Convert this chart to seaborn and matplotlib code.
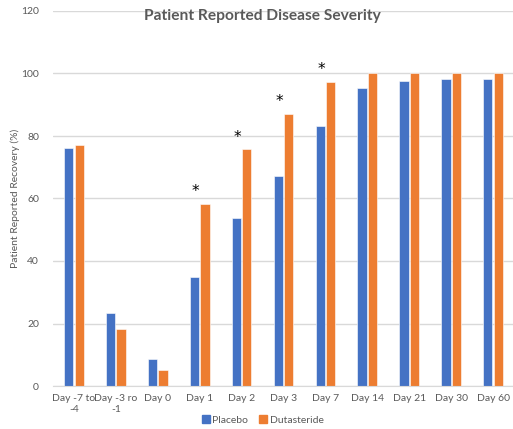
import matplotlib
matplotlib.use("Agg")
import matplotlib.pyplot as plt
import seaborn as sns
import pandas as pd

categories = ["Day -7 to\n-4", "Day -3 ro\n-1", "Day 0", "Day 1", "Day 2", "Day 3",
              "Day 7", "Day 14", "Day 21", "Day 30", "Day 60"]
placebo = [76.2, 23.3, 8.6, 34.9, 53.8, 67.1, 83.2, 95.3, 97.6, 98.2, 98.2]
dutasteride = [77.1, 18.1, 5.0, 58.2, 75.7, 87.0, 97.4, 100, 100, 100, 100]
significant = ["Day 1", "Day 2", "Day 3", "Day 7"]
series_names = ["Placebo", "Dutasteride"]
colors = ["#4472C4", "#ED7D31"]

df = pd.DataFrame({
    "Day": categories * 2,
    "Group": [series_names[0]] * len(categories) + [series_names[1]] * len(categories),
    "Value": placebo + dutasteride,
})

sns.set_style("white")
plt.rcParams["font.family"] = ["Lato", "DejaVu Sans"]

fig = plt.figure(figsize=(5.13, 4.29), dpi=100)
ax = fig.add_axes([53 / 513, 43 / 429, 461 / 513, 375 / 429])

sns.barplot(data=df, x="Day", y="Value", hue="Group", palette=colors, saturation=1,
            width=0.5, gap=0.12, ax=ax, legend=False,
            edgecolor="white", linewidth=0.4)

ax.set_ylim(0, 120)
ax.set_yticks(range(0, 121, 20))
ax.set_xlim(-0.5, len(categories) - 0.5)
ax.yaxis.grid(True, color="#D9D9D9", linewidth=1)
ax.set_axisbelow(True)
for s in ["top", "right", "left"]:
    ax.spines[s].set_visible(False)
ax.spines["bottom"].set_color("#D9D9D9")
ax.tick_params(axis="both", length=0, labelsize=7.5, labelcolor="#595959")
ax.tick_params(axis="y", pad=10)
ax.tick_params(axis="x", pad=6)
ax.set_xlabel("")
ax.set_ylabel("Patient Reported Recovery (%)", fontsize=7.5, color="#595959", labelpad=1)

for i, cat in enumerate(categories):
    if cat in significant:
        ax.text(i - 0.1, dutasteride[i] + 1.5, "*", ha="center", va="bottom",
                fontsize=11, color="black", fontfamily="DejaVu Sans")

fig.text(262 / 513, 1 - 16 / 429, "Patient Reported Disease Severity", ha="center", va="center",
         fontsize=11.2, fontweight="bold", color="#595959")

handles = [plt.Line2D([], [], marker="s", linestyle="", markersize=6, color=c) for c in colors]
fig.legend(handles, series_names, loc="center", bbox_to_anchor=(262 / 513, 1 - 420 / 429),
           ncol=2, frameon=False, fontsize=7.5, handletextpad=0.1, columnspacing=1.0,
           handlelength=1.0, labelcolor="#595959", borderaxespad=0, borderpad=0)

fig.savefig("out.png", dpi=100)
